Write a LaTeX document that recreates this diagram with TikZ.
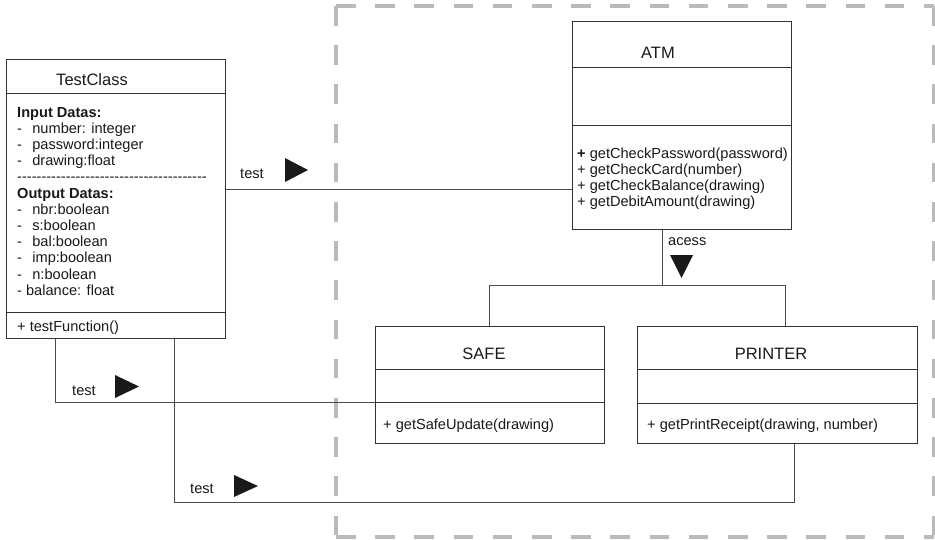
\documentclass[tikz,border=0pt]{standalone}
\usepackage{fontspec}
\setmainfont{Liberation Sans}[Ligatures=TeXOff]
\newcommand\attrdash{-\hspace{10.3pt}}
\begin{document}
\begin{tikzpicture}[x=1pt,y=-1pt,
  box/.style={draw=black!80, line width=0.9pt, inner sep=0pt, anchor=north west},
  sep/.style={draw=black!80, line width=0.9pt},
  wire/.style={draw=black!70, line width=0.9pt},
  title/.style={font=\fontsize{16.5}{18}\selectfont, inner sep=0pt, anchor=base, text=black!90},
  txt/.style={font=\fontsize{14.6}{16}\selectfont, inner sep=0pt, anchor=base west, text=black!90},
  tip/.style={fill=black!90},
  frame/.style={draw=black!27, line width=3.4pt, dash pattern=on 19.6pt off 19.6pt}
]
\useasboundingbox (0,0) rectangle (935,539);

% dashed boundary of the ATM subsystem
\draw[frame] (336,6) -- (336,537);
\draw[frame] (336,6) -- (934,6);
\draw[frame] (934,6) -- (934,537);
\draw[frame] (336,537) -- (934,537);

% class boxes
\node[box, minimum width=219pt, minimum height=279pt] (tc) at (6,59) {};
\node[box, minimum width=219pt, minimum height=208pt] (atm) at (572,21) {};
\node[box, minimum width=229pt, minimum height=117pt] (safe) at (375,326) {};
\node[box, minimum width=280pt, minimum height=117pt] (printer) at (637,326) {};

% compartment separators
\draw[sep] (tc.west |- 0,93) -- (tc.east |- 0,93);
\draw[sep] (tc.west |- 0,312) -- (tc.east |- 0,312);
\draw[sep] (atm.west |- 0,67) -- (atm.east |- 0,67);
\draw[sep] (atm.west |- 0,125) -- (atm.east |- 0,125);
\draw[sep] (safe.west |- 0,369) -- (safe.east |- 0,369);
\draw[sep] (safe.west |- 0,402) -- (safe.east |- 0,402);
\draw[sep] (printer.west |- 0,369) -- (printer.east |- 0,369);
\draw[sep] (printer.west |- 0,403) -- (printer.east |- 0,403);

% titles
\node[title] (tcT) at (92,85) {TestClass};
\node[title] (atmT) at (658,58) {ATM};
\node[title] (safeT) at (484,359) {SAFE};
\node[title] (printerT) at (771,359) {PRINTER};

% TestClass attributes and operation
\foreach \t [count=\i] in {
  {\textbf{Input Datas:}},
  {\attrdash number: integer},
  {\attrdash password:integer},
  {\attrdash drawing:float},
  {---------------------------------------},
  {\textbf{Output Datas:}},
  {\attrdash nbr:boolean},
  {\attrdash s:boolean},
  {\attrdash bal:boolean},
  {\attrdash imp:boolean},
  {\attrdash n:boolean},
  {- balance: float}}
  \node[txt] (tcA\i) at (17,{117+16.2*(\i-1)}) {\t};
\node[txt] (tcOp) at (17,331) {+ testFunction()};

% ATM operations
\foreach \t [count=\i] in {
  {\textbf{+} getCheckPassword(password)},
  {+ getCheckCard(number)},
  {+ getCheckBalance(drawing)},
  {+ getDebitAmount(drawing)}}
  \node[txt] (atmOp\i) at (577,{158+16.3*(\i-1)}) {\t};

\node[txt] (safeOp) at (383,429) {+ getSafeUpdate(drawing)};
\node[txt] (printerOp) at (647,429) {+ getPrintReceipt(drawing, number)};

% connectors
\coordinate (r1) at (0,189);
\draw[wire] (tc.east |- r1) -- (atm.west |- r1);

\coordinate (d1) at (55,402);
\draw[wire] (tc.south -| d1) -- (d1) -- (safe.west |- d1);

\coordinate (d2) at (174,502);
\coordinate (d3) at (794,502);
\draw[wire] (tc.south -| d2) -- (d2) -- (d3) -- (printer.south -| d3);

\coordinate (h) at (662,285);
\coordinate (hs) at (489,285);
\coordinate (hp) at (785,285);
\draw[wire] (atm.south -| h) -- (h);
\draw[wire] (safe.north -| hs) -- (hs) -- (hp) -- (printer.north -| hp);

% association labels and direction marks
\node[txt] (lab1) at (240,178) {test};
\fill[tip] (285,158) -- (308,170) -- (285,182) -- cycle;
\node[txt] (lab2) at (72,395) {test};
\fill[tip] (115,375) -- (139,386.5) -- (115,398) -- cycle;
\node[txt] (lab3) at (190,493) {test};
\fill[tip] (234,475) -- (258,486) -- (234,497) -- cycle;
\node[txt] (lab4) at (668,245.5) {acess};
\fill[tip] (670,255) -- (693,255) -- (681.5,278) -- cycle;
\end{tikzpicture}
\end{document}
